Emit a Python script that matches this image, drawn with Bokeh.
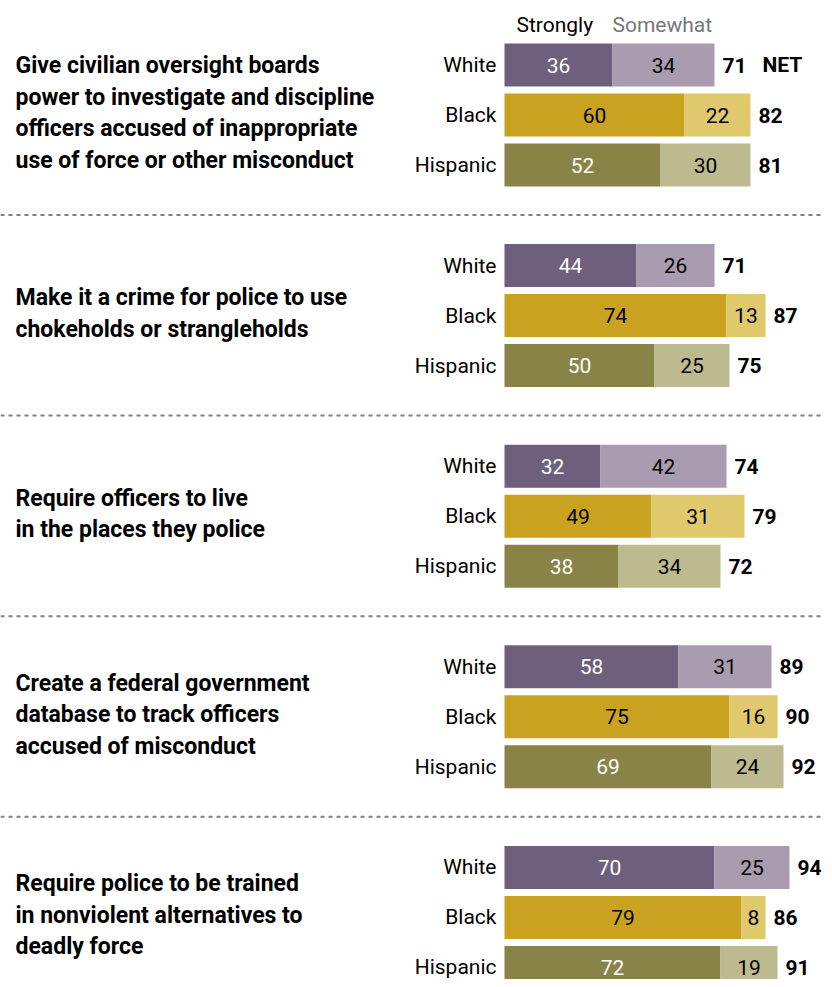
from bokeh.plotting import figure
from bokeh.models import ColumnDataSource, Range1d, Span
from bokeh.core.properties import value
from bokeh.embed import file_html
from bokeh.resources import INLINE

questions = [
    "Give civilian oversight boards\npower to investigate and discipline\nofficers accused of inappropriate\nuse of force or other misconduct",
    "Make it a crime for police to use\nchokeholds or strangleholds",
    "Require officers to live\nin the places they police",
    "Create a federal government\ndatabase to track officers\naccused of misconduct",
    "Require police to be trained\nin nonviolent alternatives to\ndeadly force",
]
groups = ["White", "Black", "Hispanic"]
strongly = {
    "White": [36, 44, 32, 58, 70],
    "Black": [60, 74, 49, 75, 79],
    "Hispanic": [52, 50, 38, 69, 72],
}
somewhat = {
    "White": [34, 26, 42, 31, 25],
    "Black": [22, 13, 31, 16, 8],
    "Hispanic": [30, 25, 34, 24, 19],
}
net = {
    "White": [71, 71, 74, 89, 94],
    "Black": [82, 87, 79, 90, 86],
    "Hispanic": [81, 75, 72, 92, 91],
}
colors_strong = {"White": "#6E607D", "Black": "#C9A320", "Hispanic": "#8A8348"}
colors_some = {"White": "#A99BB0", "Black": "#E0C96C", "Hispanic": "#BEBA90"}
label_strong_color = {"White": "white", "Black": "black", "Hispanic": "white"}

W, H = 824, 979
PX = 3.0  # px per percentage point
X0 = 504  # px of bar start within figure
FONT = "Roboto"

p = figure(width=W, height=H, output_backend="svg", toolbar_location=None,
           x_range=Range1d(-X0 / PX, (W - X0) / PX), y_range=Range1d(H, 0),
           min_border=0, outline_line_color=None)
p.axis.visible = False
p.grid.visible = False
p.background_fill_color = "white"

GROUP_STEP = 200.6
ROW_STEP = 50.0
TOP = 64.5  # center of first row (figure px)
BAR_H = 43

rows = dict(y=[], left=[], right=[], mid=[], color=[], label=[], lcolor=[])
srows = dict(y=[], left=[], right=[], mid=[], color=[], label=[])
nrows = dict(y=[], x=[], label=[])
cats = dict(y=[], label=[])
for g in range(len(questions)):
    for r, grp in enumerate(groups):
        y = TOP + g * GROUP_STEP + r * ROW_STEP
        s = strongly[grp][g]
        m = somewhat[grp][g]
        rows["y"].append(y); rows["left"].append(0); rows["right"].append(s)
        rows["mid"].append(s / 2); rows["color"].append(colors_strong[grp])
        rows["label"].append(str(s)); rows["lcolor"].append(label_strong_color[grp])
        srows["y"].append(y); srows["left"].append(s); srows["right"].append(s + m)
        srows["mid"].append(s + m / 2); srows["color"].append(colors_some[grp])
        srows["label"].append(str(m))
        nrows["y"].append(y); nrows["x"].append(s + m); nrows["label"].append(str(net[grp][g]))
        cats["y"].append(y); cats["label"].append(grp)

src_s = ColumnDataSource(rows)
src_m = ColumnDataSource(srows)
src_n = ColumnDataSource(nrows)
src_c = ColumnDataSource(cats)

p.hbar(y="y", left="left", right="right", height=BAR_H, color="color", line_color=None, source=src_s)
p.hbar(y="y", left="left", right="right", height=BAR_H, color="color", line_color=None, source=src_m)

p.text(x="mid", y="y", text="label", text_color="lcolor", text_align="center", text_baseline="middle",
       text_font=value(FONT), text_font_size="21px", source=src_s)
p.text(x="mid", y="y", text="label", text_color="black", text_align="center", text_baseline="middle",
       text_font=value(FONT), text_font_size="21px", source=src_m)
p.text(x="x", y="y", text="label", text_color="black", text_align="left", text_baseline="middle",
       x_offset=8, text_font=value(FONT), text_font_style="bold", text_font_size="21px", source=src_n)
p.text(x=0, y="y", text="label", text_color="black", text_align="right", text_baseline="middle",
       x_offset=-8, text_font=value(FONT), text_font_size="21px", source=src_c)

# NET marker next to first White value
p.text(x=[nrows["x"][0]], y=[nrows["y"][0]], text=["NET"], text_color="black", text_align="left",
       text_baseline="middle", x_offset=48, text_font=value(FONT), text_font_style="bold",
       text_font_size="21px")

# legend labels
p.text(x=[0], y=[TOP - 40], text=["Strongly"], text_color="black", text_align="left",
       text_baseline="middle", x_offset=12, text_font=value(FONT), text_font_size="21px")
p.text(x=[0], y=[TOP - 40], text=["Somewhat"], text_color="#777777", text_align="left",
       text_baseline="middle", x_offset=108, text_font=value(FONT), text_font_size="21px")

# question texts
qy = [TOP + g * GROUP_STEP + ROW_STEP - 2 for g in range(len(questions))]
p.text(x=[-X0 / PX] * len(questions), y=qy, text=questions, text_color="black", text_align="left",
       text_baseline="middle", x_offset=15, text_font=value(FONT), text_font_style="bold",
       text_font_size="23px", text_line_height=1.17)

for g in range(len(questions) - 1):
    ysep = TOP + g * GROUP_STEP + 2 * ROW_STEP + 50
    p.add_layout(Span(location=ysep, dimension="width", line_color="#808080", line_width=2,
                      line_dash="4 4"))

open("out.html", "w").write(file_html(p, INLINE))
